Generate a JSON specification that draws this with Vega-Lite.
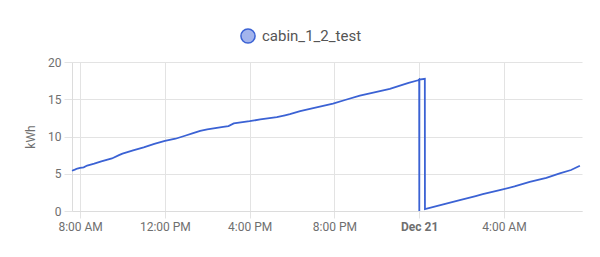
{
  "$schema": "https://vega.github.io/schema/vega-lite/v6.json",
  "autosize": "none",
  "width": 510,
  "height": 149,
  "padding": {"left": 72, "top": 62, "right": 18, "bottom": 46},
  "background": "white",
  "config": {
    "font": "Roboto",
    "view": {"stroke": null},
    "axis": {
      "labelFont": "Roboto",
      "labelFontSize": 12,
      "labelColor": "#6f6f6f",
      "titleFont": "Roboto",
      "titleFontSize": 12,
      "titleFontWeight": "normal",
      "titleColor": "#6f6f6f",
      "gridColor": "#e3e3e3",
      "domainColor": "#dcdcdc",
      "tickColor": "#e3e3e3"
    }
  },
  "data": {
    "values": [
      {"t": "2023-12-20T07:37:00", "v": 5.40, "s": "cabin_1_2_test"},
      {"t": "2023-12-20T07:45:00", "v": 5.55, "s": "cabin_1_2_test"},
      {"t": "2023-12-20T07:52:00", "v": 5.70, "s": "cabin_1_2_test"},
      {"t": "2023-12-20T08:00:00", "v": 5.78, "s": "cabin_1_2_test"},
      {"t": "2023-12-20T08:10:00", "v": 5.86, "s": "cabin_1_2_test"},
      {"t": "2023-12-20T08:20:00", "v": 6.10, "s": "cabin_1_2_test"},
      {"t": "2023-12-20T08:40:00", "v": 6.35, "s": "cabin_1_2_test"},
      {"t": "2023-12-20T09:00:00", "v": 6.65, "s": "cabin_1_2_test"},
      {"t": "2023-12-20T09:30:00", "v": 7.05, "s": "cabin_1_2_test"},
      {"t": "2023-12-20T09:50:00", "v": 7.50, "s": "cabin_1_2_test"},
      {"t": "2023-12-20T10:00:00", "v": 7.70, "s": "cabin_1_2_test"},
      {"t": "2023-12-20T10:30:00", "v": 8.15, "s": "cabin_1_2_test"},
      {"t": "2023-12-20T11:00:00", "v": 8.55, "s": "cabin_1_2_test"},
      {"t": "2023-12-20T11:30:00", "v": 9.00, "s": "cabin_1_2_test"},
      {"t": "2023-12-20T12:00:00", "v": 9.40, "s": "cabin_1_2_test"},
      {"t": "2023-12-20T12:30:00", "v": 9.70, "s": "cabin_1_2_test"},
      {"t": "2023-12-20T12:57:00", "v": 10.10, "s": "cabin_1_2_test"},
      {"t": "2023-12-20T13:20:00", "v": 10.45, "s": "cabin_1_2_test"},
      {"t": "2023-12-20T13:40:00", "v": 10.75, "s": "cabin_1_2_test"},
      {"t": "2023-12-20T14:00:00", "v": 10.95, "s": "cabin_1_2_test"},
      {"t": "2023-12-20T14:45:00", "v": 11.30, "s": "cabin_1_2_test"},
      {"t": "2023-12-20T15:00:00", "v": 11.40, "s": "cabin_1_2_test"},
      {"t": "2023-12-20T15:15:00", "v": 11.75, "s": "cabin_1_2_test"},
      {"t": "2023-12-20T16:00:00", "v": 12.05, "s": "cabin_1_2_test"},
      {"t": "2023-12-20T16:30:00", "v": 12.30, "s": "cabin_1_2_test"},
      {"t": "2023-12-20T17:17:00", "v": 12.60, "s": "cabin_1_2_test"},
      {"t": "2023-12-20T17:40:00", "v": 12.85, "s": "cabin_1_2_test"},
      {"t": "2023-12-20T17:54:00", "v": 13.00, "s": "cabin_1_2_test"},
      {"t": "2023-12-20T18:23:00", "v": 13.40, "s": "cabin_1_2_test"},
      {"t": "2023-12-20T19:00:00", "v": 13.80, "s": "cabin_1_2_test"},
      {"t": "2023-12-20T19:56:00", "v": 14.40, "s": "cabin_1_2_test"},
      {"t": "2023-12-20T20:30:00", "v": 14.90, "s": "cabin_1_2_test"},
      {"t": "2023-12-20T21:12:00", "v": 15.50, "s": "cabin_1_2_test"},
      {"t": "2023-12-20T21:50:00", "v": 15.90, "s": "cabin_1_2_test"},
      {"t": "2023-12-20T22:37:00", "v": 16.40, "s": "cabin_1_2_test"},
      {"t": "2023-12-20T23:10:00", "v": 16.90, "s": "cabin_1_2_test"},
      {"t": "2023-12-20T23:30:00", "v": 17.20, "s": "cabin_1_2_test"},
      {"t": "2023-12-20T23:57:00", "v": 17.55, "s": "cabin_1_2_test"},
      {"t": "2023-12-21T00:00:00", "v": 17.65, "s": "cabin_1_2_test"},
      {"t": "2023-12-21T00:00:20", "v": 0.0, "s": "cabin_1_2_test"},
      {"t": "2023-12-21T00:00:40", "v": 17.65, "s": "cabin_1_2_test"},
      {"t": "2023-12-21T00:16:00", "v": 17.75, "s": "cabin_1_2_test"},
      {"t": "2023-12-21T00:16:20", "v": 0.25, "s": "cabin_1_2_test"},
      {"t": "2023-12-21T01:00:00", "v": 0.80, "s": "cabin_1_2_test"},
      {"t": "2023-12-21T01:55:00", "v": 1.45, "s": "cabin_1_2_test"},
      {"t": "2023-12-21T02:40:00", "v": 2.00, "s": "cabin_1_2_test"},
      {"t": "2023-12-21T03:00:00", "v": 2.25, "s": "cabin_1_2_test"},
      {"t": "2023-12-21T03:48:00", "v": 2.80, "s": "cabin_1_2_test"},
      {"t": "2023-12-21T04:30:00", "v": 3.30, "s": "cabin_1_2_test"},
      {"t": "2023-12-21T05:13:00", "v": 3.90, "s": "cabin_1_2_test"},
      {"t": "2023-12-21T06:00:00", "v": 4.45, "s": "cabin_1_2_test"},
      {"t": "2023-12-21T06:38:00", "v": 5.05, "s": "cabin_1_2_test"},
      {"t": "2023-12-21T07:10:00", "v": 5.50, "s": "cabin_1_2_test"},
      {"t": "2023-12-21T07:35:00", "v": 6.07, "s": "cabin_1_2_test"}
    ]
  },
  "mark": {"type": "line", "strokeWidth": 1.8},
  "encoding": {
    "x": {
      "field": "t",
      "type": "temporal",
      "scale": {
        "domain": ["2023-12-20T07:37:00", "2023-12-21T07:41:00"],
        "nice": false
      },
      "axis": {
        "title": null,
        "values": ["2023-12-20T08:00:00", "2023-12-20T12:00:00", "2023-12-20T16:00:00", "2023-12-20T20:00:00", "2023-12-21T00:00:00", "2023-12-21T04:00:00"],
        "tickSize": 7,
        "labelPadding": 3,
        "labelExpr": "hours(datum.value) == 0 ? timeFormat(datum.value, '%b %d') : timeFormat(datum.value, '%-I:%M %p')",
        "labelFontWeight": {"condition": {"test": "hours(datum.value) == 0", "value": "bold"}, "value": "normal"},
        "labelFlush": false
      }
    },
    "y": {
      "field": "v",
      "type": "quantitative",
      "scale": {"domain": [0, 20], "nice": false},
      "axis": {
        "title": "kWh",
        "values": [0, 5, 10, 15, 20],
        "tickSize": 8,
        "labelPadding": 3,
        "titlePadding": 10
      }
    },
    "color": {
      "field": "s",
      "type": "nominal",
      "scale": {"range": ["#3b62d4"]},
      "legend": {
        "title": null,
        "orient": "none",
        "legendX": 168,
        "legendY": -34,
        "symbolType": "circle",
        "symbolSize": 200,
        "symbolFillColor": "#a3b4ec",
        "symbolStrokeColor": "#3b62d4",
        "symbolStrokeWidth": 1.5,
        "labelFont": "Roboto",
        "labelFontSize": 15,
        "labelColor": "#555555",
        "labelOffset": 6
      }
    }
  }
}
